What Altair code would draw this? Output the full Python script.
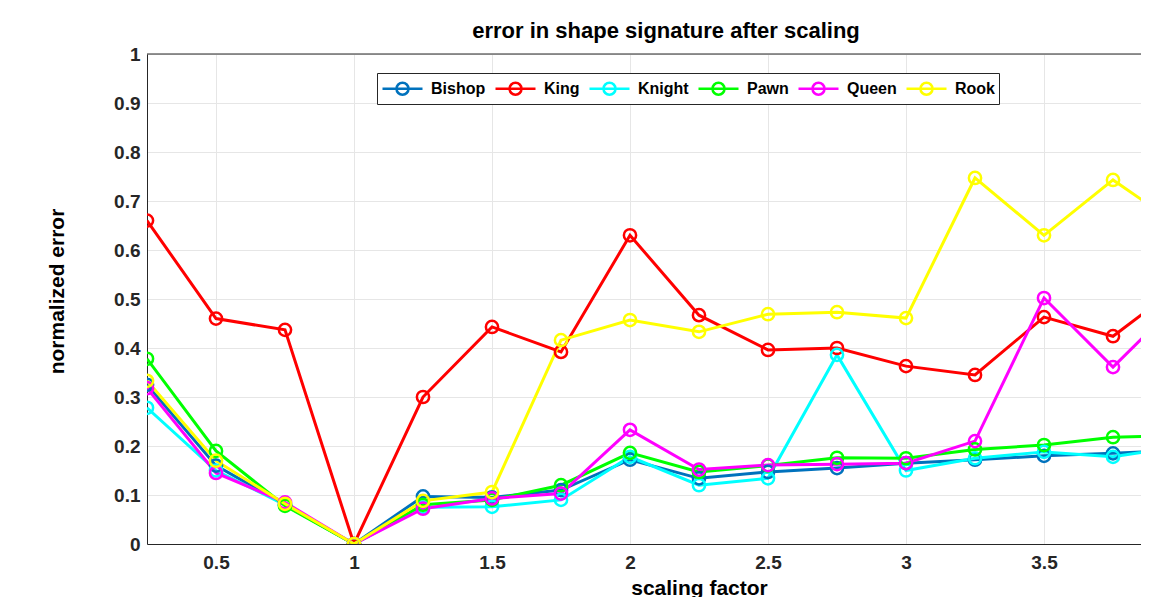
import altair as alt
import pandas as pd

# scaling factors (last point lies just beyond the visible right edge)
scaling = [0.25, 0.5, 0.75, 1.0, 1.25, 1.5, 1.75, 2.0, 2.25, 2.5, 2.75, 3.0, 3.25, 3.5, 3.75, 4.0]

bishop = [0.325, 0.160, 0.080, 0.0, 0.097, 0.095, 0.110, 0.172, 0.134, 0.147, 0.155, 0.165, 0.172, 0.180, 0.185, 0.192]
king   = [0.660, 0.460, 0.437, 0.0, 0.300, 0.443, 0.392, 0.630, 0.467, 0.396, 0.400, 0.363, 0.345, 0.463, 0.424, 0.530]
knight = [0.278, 0.150, 0.080, 0.0, 0.075, 0.076, 0.090, 0.178, 0.120, 0.134, 0.386, 0.150, 0.175, 0.188, 0.178, 0.200]
pawn   = [0.378, 0.190, 0.078, 0.0, 0.080, 0.090, 0.120, 0.186, 0.147, 0.160, 0.176, 0.175, 0.193, 0.202, 0.218, 0.222]
queen  = [0.318, 0.145, 0.085, 0.0, 0.072, 0.093, 0.103, 0.233, 0.152, 0.161, 0.163, 0.165, 0.210, 0.502, 0.361, 0.500]
rook   = [0.333, 0.170, 0.082, 0.0, 0.088, 0.106, 0.416, 0.457, 0.433, 0.469, 0.473, 0.461, 0.747, 0.630, 0.743, 0.646]

pieces = ["Bishop", "King", "Knight", "Pawn", "Queen", "Rook"]
colors = ["#0072BD", "#FF0000", "#00FFFF", "#00FF00", "#FF00FF", "#FFFF00"]

x_ticks = [0.5, 1.0, 1.5, 2.0, 2.5, 3.0, 3.5]
y_ticks = [0, 0.1, 0.2, 0.3, 0.4, 0.5, 0.6, 0.7, 0.8, 0.9, 1.0]

series = [bishop, king, knight, pawn, queen, rook]
rows = []
for name, vals in zip(pieces, series):
    for xv, yv in zip(scaling, vals):
        rows.append({"scale": xv, "err": yv, "piece": name, "k": pieces.index(name)})
df = pd.DataFrame(rows)

FONT = "Liberation Sans"
PLOT_W, PLOT_H = 994, 490
x_max = 0.25 + PLOT_W / 276.0

# legend glyph: line with a hollow circle, offset to the right of the symbol box
legend_symbol = "M-1,0L3,0M0.4,0A0.6,0.6,0,1,1,1.6,0A0.6,0.6,0,1,1,0.4,0"

lines = alt.Chart(df).mark_line(
    clip=True, strokeWidth=3,
    point=alt.OverlayMarkDef(filled=False, size=150, strokeWidth=2.5, clip=True),
).encode(
    x=alt.X("scale:Q",
            scale=alt.Scale(domain=[0.25, x_max], nice=False, zero=False),
            axis=alt.Axis(values=x_ticks, format="~g", title="scaling factor",
                          titleX=552, titleY=33, titleBaseline="top", titleAlign="center")),
    y=alt.Y("err:Q",
            scale=alt.Scale(domain=[0, 1], nice=False),
            axis=alt.Axis(values=y_ticks, format=".1~f", title="normalized error",
                          titleAngle=270, titleX=-90, titleY=237,
                          titleBaseline="middle", titleAlign="center")),
    color=alt.Color("piece:N",
                    scale=alt.Scale(domain=pieces, range=colors),
                    legend=alt.Legend(
                        orient="none", legendX=230, legendY=19,
                        direction="horizontal", columns=6, title=None,
                        symbolType=legend_symbol, symbolSize=400,
                        symbolStrokeWidth=2.5, symbolFillColor="transparent",
                        labelFont=FONT, labelFontSize=16, labelFontWeight="bold",
                        labelColor="black", labelOffset=27, columnPadding=4,
                        strokeColor="#262626", fillColor="white", padding=4,
                    )),
    detail="k:O",
)

border_df = pd.DataFrame({"top": [1.0]})
border = alt.Chart(border_df).mark_rule(color="#262626", strokeWidth=1).encode(
    y=alt.Y("top:Q")
)

chart = alt.layer(lines, border).properties(
    width=PLOT_W, height=PLOT_H,
    autosize=alt.AutoSizeParams(type="none"),
    padding={"left": 139, "top": 46, "right": 0, "bottom": 53},
    title=alt.TitleParams("error in shape signature after scaling",
                          font=FONT, fontSize=22, fontWeight="bold", color="black",
                          dx=22, dy=31, offset=16, baseline="alphabetic", frame="group"),
).configure_view(stroke=None).configure_axis(
    labelFont=FONT, labelFontSize=19, labelFontWeight="bold", labelColor="#262626",
    titleFont=FONT, titleFontSize=21, titleFontWeight="bold", titleColor="black",
    ticks=False, domainColor="#262626", domainWidth=1,
    gridColor="#e6e6e6", gridWidth=1,
).configure_axisY(labelPadding=7).configure_axisX(labelPadding=9)

chart.save("out.html", embed_options={"renderer": "svg", "actions": False})
